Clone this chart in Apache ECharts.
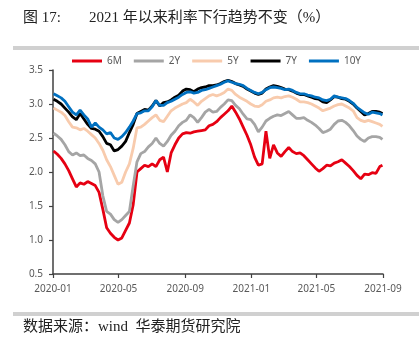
<!DOCTYPE html>
<html>
<head>
<meta charset="utf-8">
<script src="https://cdn.jsdelivr.net/npm/echarts@6/dist/echarts.min.js"></script>
<style>
  html, body { margin: 0; padding: 0; background: #ffffff; }
  #chart { width: 419px; height: 344px; }
</style>
</head>
<body>
<div id="chart"></div>
<script>
// Weekly observations from 2020-01-02, plus the last trading day of Aug 2021
const firstObs = Date.UTC(2020, 0, 2);
const weekCount = 87;
const lastObs = Date.UTC(2021, 7, 31);
const obsDates = [];
for (let k = 0; k < weekCount; k++) obsDates.push(firstObs + k * 7 * 86400000);
obsDates.push(lastObs);

const seriesNames = ['6M', '2Y', '5Y', '7Y', '10Y'];

const rate6M = [
  2.31, 2.26, 2.20, 2.12, 2.02, 1.90, 1.78, 1.84, 1.82, 1.86, 1.83, 1.80, 1.70, 1.45, 1.18, 1.10, 1.04, 1.00, 1.03, 1.14, 1.25, 1.52,
  2.00, 2.05, 2.10, 2.08, 2.12, 2.08, 2.18, 2.22, 2.00, 2.28, 2.40, 2.50, 2.56, 2.58, 2.57, 2.59, 2.60, 2.61, 2.62, 2.68, 2.70,
  2.74, 2.80, 2.85, 2.90, 2.97, 2.88, 2.78, 2.66, 2.54, 2.40, 2.22, 2.10, 2.12, 2.60, 2.20, 2.40, 2.28, 2.23, 2.30, 2.36, 2.30, 2.27,
  2.28, 2.24, 2.18, 2.12, 2.06, 2.01, 2.05, 2.10, 2.09, 2.13, 2.15, 2.18, 2.13, 2.08, 2.02, 1.95, 1.90, 1.97, 1.96, 1.99, 1.98, 2.08,
  2.10
];
const rate2Y = [
  2.57, 2.53, 2.48, 2.40, 2.30, 2.25, 2.28, 2.24, 2.25, 2.20, 2.17, 2.12, 2.00, 1.65, 1.42, 1.38, 1.30, 1.26, 1.30, 1.36, 1.42, 1.80,
  2.15, 2.27, 2.30, 2.37, 2.42, 2.50, 2.42, 2.38, 2.45, 2.54, 2.60, 2.68, 2.73, 2.76, 2.84, 2.80, 2.73, 2.80, 2.88, 2.92, 2.88,
  2.89, 2.95, 3.00, 3.06, 3.05, 2.98, 2.93, 2.85, 2.78, 2.77, 2.70, 2.59, 2.66, 2.75, 2.79, 2.82, 2.84, 2.83, 2.86, 2.89, 2.84, 2.79,
  2.79, 2.80, 2.76, 2.73, 2.69, 2.64, 2.58, 2.60, 2.63, 2.70, 2.75, 2.76, 2.73, 2.68, 2.61, 2.53, 2.48, 2.45, 2.50, 2.52, 2.52, 2.51,
  2.48
];
const rate5Y = [
  2.94, 2.91, 2.88, 2.83, 2.74, 2.66, 2.65, 2.62, 2.64, 2.60, 2.55, 2.50, 2.42, 2.32, 2.18, 2.08, 1.95, 1.82, 1.85, 2.00, 2.12, 2.35,
  2.65, 2.66, 2.70, 2.75, 2.80, 2.84, 2.76, 2.74, 2.82, 2.90, 2.94, 2.97, 3.00, 3.02, 3.07, 3.03, 2.98, 3.04, 3.08, 3.12, 3.14,
  3.12, 3.14, 3.17, 3.22, 3.20, 3.14, 3.10, 3.07, 3.04, 3.00, 2.97, 2.96, 2.99, 3.04, 3.06, 3.09, 3.10, 3.09, 3.11, 3.12, 3.10, 3.07,
  3.03, 3.03, 3.02, 3.00, 2.97, 2.94, 2.90, 2.92, 2.94, 2.97, 2.99, 3.00, 2.97, 2.94, 2.90, 2.80, 2.76, 2.74, 2.76, 2.74, 2.72, 2.70,
  2.67
];
const rate7Y = [
  3.07, 3.04, 3.00, 2.94, 2.88, 2.81, 2.77, 2.86, 2.78, 2.70, 2.64, 2.63, 2.60, 2.52, 2.42, 2.40, 2.31, 2.33, 2.38, 2.45, 2.58, 2.70,
  2.86, 2.89, 2.92, 2.91, 2.97, 3.05, 2.97, 3.02, 3.03, 3.06, 3.10, 3.13, 3.19, 3.22, 3.21, 3.18, 3.22, 3.24, 3.25, 3.27, 3.27,
  3.28, 3.30, 3.33, 3.35, 3.33, 3.30, 3.28, 3.26, 3.22, 3.19, 3.16, 3.14, 3.16, 3.22, 3.25, 3.27, 3.26, 3.24, 3.22, 3.21, 3.19, 3.16,
  3.14, 3.14, 3.12, 3.10, 3.08, 3.07, 3.03, 3.02, 3.06, 3.11, 3.10, 3.08, 3.07, 3.04, 3.00, 2.94, 2.89, 2.84, 2.86, 2.89, 2.89, 2.88,
  2.86
];
const rate10Y = [
  3.15, 3.12, 3.09, 3.04, 2.96, 2.88, 2.84, 2.91, 2.84, 2.78, 2.66, 2.72, 2.66, 2.62, 2.56, 2.58, 2.50, 2.48, 2.52, 2.58, 2.66, 2.75,
  2.86, 2.87, 2.90, 2.90, 2.96, 3.05, 2.98, 2.98, 3.02, 3.04, 3.07, 3.10, 3.14, 3.17, 3.18, 3.16, 3.17, 3.20, 3.21, 3.23, 3.25,
  3.27, 3.29, 3.32, 3.34, 3.32, 3.30, 3.29, 3.27, 3.23, 3.20, 3.17, 3.15, 3.17, 3.21, 3.24, 3.25, 3.24, 3.23, 3.21, 3.22, 3.20, 3.17,
  3.15, 3.15, 3.13, 3.12, 3.10, 3.09, 3.06, 3.05, 3.07, 3.12, 3.10, 3.09, 3.08, 3.05, 3.01, 2.95, 2.91, 2.87, 2.85, 2.88, 2.87, 2.86,
  2.84
];

// Axis ticks: every four months
const xTickDates = [
  Date.UTC(2020, 0, 1), Date.UTC(2020, 4, 1), Date.UTC(2020, 8, 1),
  Date.UTC(2021, 0, 1), Date.UTC(2021, 4, 1), Date.UTC(2021, 8, 1)
];
const yMin = 0.5, yMax = 3.5, yStep = 0.5;

const seriesValues = [rate6M, rate2Y, rate5Y, rate7Y, rate10Y];
const seriesColors = ['#E60012', '#A5A5A5', '#F8CBAD', '#000000', '#0070C0'];

function pairUp(values) {
  return values.map((v, i) => [obsDates[i], v]);
}
function monthLabel(ts) {
  const d = new Date(ts);
  return d.getUTCFullYear() + '-' + String(d.getUTCMonth() + 1).padStart(2, '0');
}

const chart = echarts.init(document.getElementById('chart'), null, { renderer: 'canvas' });
const labelFont = "'Noto Sans', 'Liberation Sans', sans-serif";
const serifFont = "'Liberation Serif', 'DejaVu Serif', 'Noto Sans CJK SC', serif";

chart.setOption({
  backgroundColor: '#ffffff',
  animation: false,
  graphic: [
    { type: 'text', left: 23, top: 11, style: { text: '图 17:', font: '15px ' + serifFont, fill: '#222' } },
    { type: 'text', left: 89, top: 11, style: { text: '2021 年以来利率下行趋势不变（%）', font: '15px ' + serifFont, fill: '#222' } },
    { type: 'rect', shape: { x: 13, y: 46, width: 406, height: 4 }, style: { fill: '#D0D0D0' } },
    { type: 'rect', shape: { x: 13, y: 312, width: 406, height: 4 }, style: { fill: '#D0D0D0' } },
    { type: 'text', left: 23, top: 320, style: { text: '数据来源：wind  华泰期货研究院', font: '15px ' + serifFont, fill: '#222' } }
  ],
  legend: {
    data: seriesNames,
    left: 72,
    top: 56,
    padding: 0,
    icon: 'rect',
    itemWidth: 30,
    itemHeight: 3,
    itemGap: 12,
    textStyle: { color: '#595959', fontSize: 10, fontFamily: labelFont }
  },
  grid: { left: 53, right: 36, top: 70, bottom: 70, containLabel: false },
  xAxis: {
    type: 'value',
    min: xTickDates[0],
    max: xTickDates[xTickDates.length - 1],
    axisLine: { show: true, lineStyle: { color: '#404040', width: 1.5 } },
    axisTick: { show: true, customValues: xTickDates, length: 4, lineStyle: { color: '#404040', width: 1.2 } },
    axisLabel: {
      customValues: xTickDates,
      formatter: monthLabel,
      color: '#595959',
      fontSize: 10,
      fontFamily: labelFont,
      margin: 10,
      hideOverlap: false,
      showMinLabel: true,
      showMaxLabel: true
    },
    splitLine: { show: false }
  },
  yAxis: {
    type: 'value',
    min: yMin,
    max: yMax,
    interval: yStep,
    axisLine: { show: true, lineStyle: { color: '#404040', width: 1.5 } },
    axisTick: { show: true, length: 4, lineStyle: { color: '#404040', width: 1.2 } },
    axisLabel: {
      formatter: v => v.toFixed(1),
      color: '#595959',
      fontSize: 10,
      fontFamily: labelFont,
      margin: 10
    },
    splitLine: { show: false }
  },
  series: seriesNames.map((name, i) => ({
    name: name,
    type: 'line',
    data: pairUp(seriesValues[i]),
    symbol: 'none',
    color: seriesColors[i],
    lineStyle: { color: seriesColors[i], width: 2.8 },
    z: 2 + i
  }))
});
</script>
</body>
</html>
